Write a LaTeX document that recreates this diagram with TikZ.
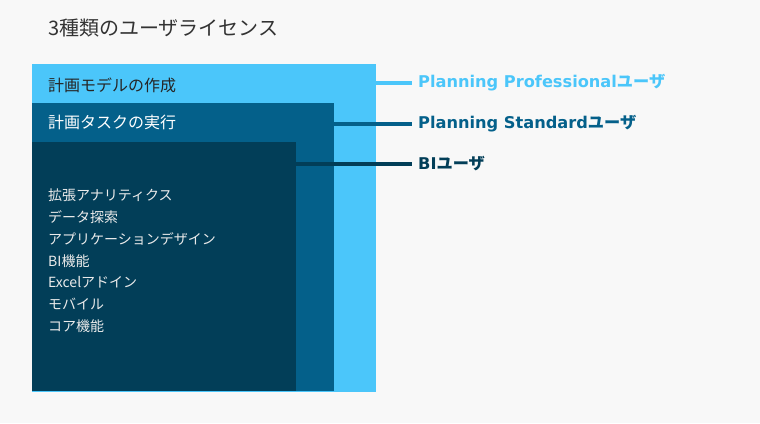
\documentclass[tikz,border=0pt]{standalone}
\usepackage{fontspec}
\setmainfont{Noto Sans CJK JP}
\newfontfamily\userlatin{DejaVu Sans}
\usepackage{tikz}
\usetikzlibrary{positioning}
\definecolor{pro_blue}{HTML}{4BC6FA}
\definecolor{std_blue}{HTML}{04608A}
\definecolor{bi_blue}{HTML}{023E58}
\definecolor{page_grey}{HTML}{F8F8F8}
\tikzset{my_picture/.style={x=1pt,y=-1pt,line cap=butt}}
\tikzset{my_box/.style={rectangle, anchor=north west, inner sep=0pt, outer sep=0pt}}
\tikzset{my_box_text/.style={anchor=west, inner sep=0pt, font=\fontsize{16}{19}\selectfont}}
\tikzset{my_user/.style={anchor=west, inner sep=0pt, font=\bfseries\fontsize{16.2}{19}\selectfont}}
\tikzset{my_link/.style={line width=3.5pt}}

\begin{document}
\begin{tikzpicture}[my_picture]
    \fill[page_grey] (0,0) rectangle (760,423);
    \useasboundingbox (0,0) rectangle (760,423);
    %\draw[help lines,step=50] (0,0) grid (760,423);
    \node[anchor=west, inner sep=0pt, text=black!80, font=\fontsize{20}{24}\selectfont] (title) at (48,28) {3種類のユーザライセンス};

    \node[my_box, fill=pro_blue, minimum width=344pt, minimum height=328pt] (pro) at (32,64) {};
    \node[my_box, fill=std_blue, minimum width=302pt, minimum height=288pt] (std) at (32,103) {};
    \node[my_box, fill=bi_blue, minimum width=264pt, minimum height=249pt] (bi) at (32,142) {};

    \node[my_box_text, text=black!85] (pro_text) at (48,85) {計画モデルの作成};
    \node[my_box_text, text=white] (std_text) at (48,122) {計画タスクの実行};
    \node[anchor=north west, inner sep=0pt, align=left, text=white!92!black,
        font=\fontsize{14}{21.7}\selectfont] (bi_text) at (48,189)
        {拡張アナリティクス\\データ探索\\アプリケーションデザイン\\BI機能\\Excelアドイン\\モバイル\\コア機能};

    \node[my_user, text=pro_blue] (pro_user) at (418,83) {{\userlatin Planning Professional}ユーザ};
    \node[my_user, text=std_blue] (std_user) at (418,124) {{\userlatin Planning Standard}ユーザ};
    \node[my_user, text=bi_blue] (bi_user) at (418,164) {{\userlatin BI}ユーザ};

    \draw[my_link, pro_blue] (pro_user.west -| pro.east) -- ([xshift=-6pt]pro_user.west);
    \draw[my_link, std_blue] (std_user.west -| std.east) -- ([xshift=-6pt]std_user.west);
    \draw[my_link, bi_blue] (bi_user.west -| bi.east) -- ([xshift=-6pt]bi_user.west);
\end{tikzpicture}
\end{document}
